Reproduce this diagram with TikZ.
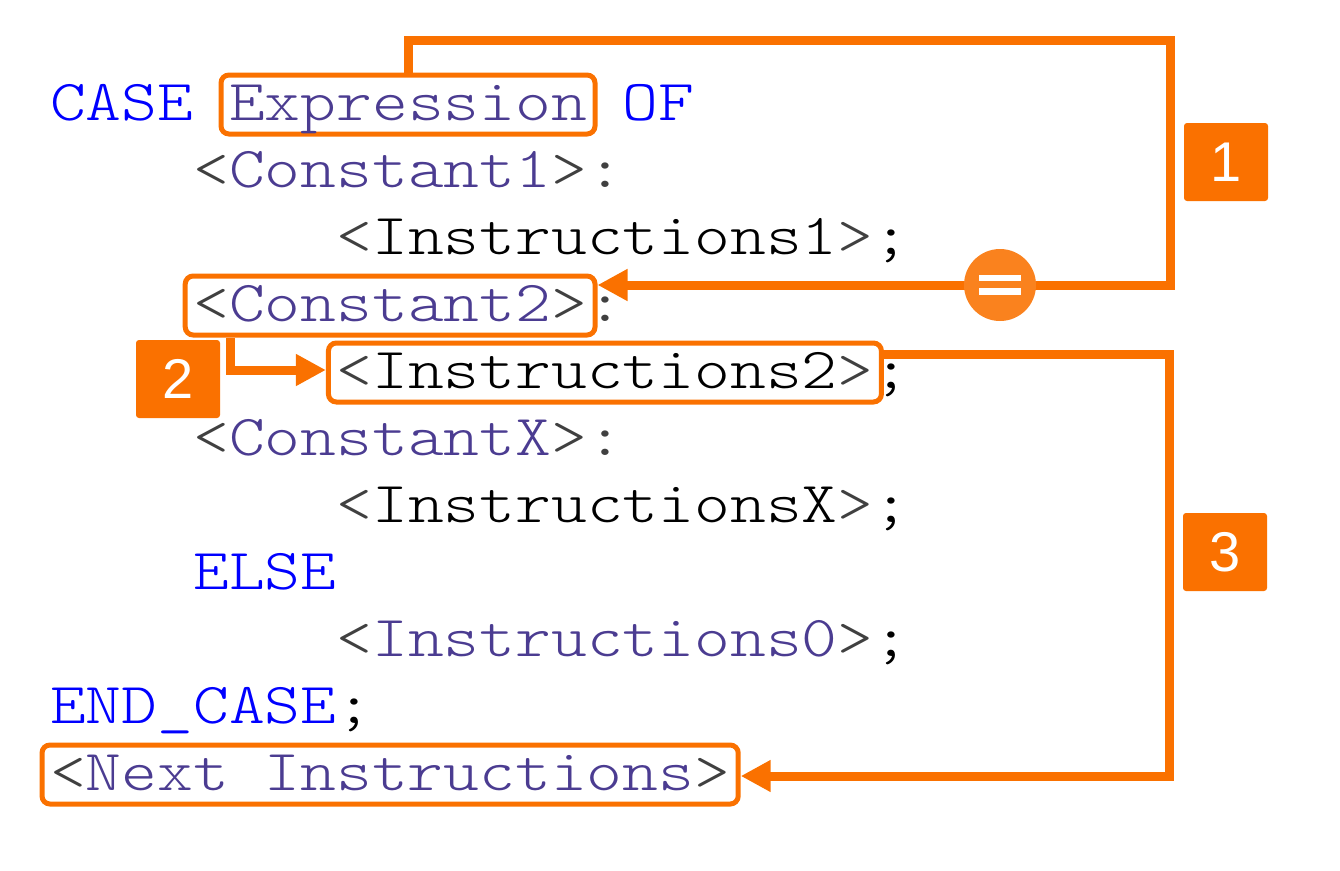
\documentclass[tikz,border=0pt]{standalone}
\usepackage{fontspec}
\newfontfamily\codefont[FakeStretch=1.1757]{lmmonolt10-regular.otf}
\newfontfamily\numfont{Liberation Sans}
\usetikzlibrary{calc,arrows.meta}
\definecolor{kw}{RGB}{0,0,255}
\definecolor{idc}{RGB}{75,60,145}
\definecolor{brk}{RGB}{64,64,64}
\definecolor{org}{RGB}{250,113,0}
\definecolor{orgc}{RGB}{250,130,30}
\newcommand\lt{\textcolor{brk}{<}}
\newcommand\gt{\textcolor{brk}{>}}
\tikzset{
  code/.style={anchor=text, inner sep=0pt, font=\codefont\fontsize{58}{67}\selectfont},
  codebox/.style={code, draw=org, line width=5pt, rounded corners=8pt, inner xsep=8pt, inner ysep=4pt, text height=41pt, text depth=10pt},
  conn/.style={draw=org, line width=9pt},
  tri/.style={-{Triangle[length=30pt,width=30pt]}, shorten >=0pt},
  numbox/.style={fill=org, rounded corners=3pt, text=white, minimum width=84pt, minimum height=78pt, inner sep=0pt, font=\numfont\fontsize{56}{60}\selectfont}
}
\begin{document}
\begin{tikzpicture}[x=1pt,y=-1pt]
\useasboundingbox (0,0) rectangle (1340,870);
\def\cw{35.8}
% line 0
\node[code,text=kw] (case) at (50,120) {CASE};
\node[codebox,text=idc] (e) at ({50+5*\cw},120) {Expression};
\node[code,text=kw] (of) at ({50+16*\cw},120) {OF};
% line 1
\node[code,text=idc] (k1) at ({50+4*\cw},187) {\lt Constant1\gt\textcolor{brk}{:}};
% line 2
\node[code,text=black] (i1) at ({50+8*\cw},254) {\lt Instructions1\gt;};
% line 3
\node[codebox,text=idc] (k2) at ({50+4*\cw},321) {\lt Constant2\gt};
\node[code,text=brk] (k2c) at ({50+15*\cw},321) {:};
% line 4
\node[codebox,text=black] (i2) at ({50+8*\cw},388) {\lt Instructions2\gt};
\node[code,text=black] (i2s) at ({50+23*\cw},388) {;};
% line 5
\node[code,text=idc] (kx) at ({50+4*\cw},455) {\lt ConstantX\gt\textcolor{brk}{:}};
% line 6
\node[code,text=black] (ix) at ({50+8*\cw},522) {\lt InstructionsX\gt;};
% line 7
\node[code,text=kw] (else) at ({50+4*\cw},589) {ELSE};
% line 8
\node[code,text=idc] (i0) at ({50+8*\cw},656) {\lt Instructions0\gt\textcolor{black}{;}};
% line 9
\node[code,text=kw] (end) at (50,723) {END\_CASE\textcolor{black}{;}};
% line 10
\node[codebox,text=idc] (n) at (50,790) {\lt Next Instructions\gt};

% connector 1
\coordinate (c1a) at (1170,40);
\coordinate (c1b) at (1170,285);
\draw[conn,tri] (e.north) |- (c1a) -- (c1b) -- (c1b -| k2.east);
\node[circle, fill=orgc, minimum size=72pt, inner sep=0pt] (eq) at (1000,285) {};
\fill[white] ($(eq.center)+(-21,-10)$) rectangle ($(eq.center)+(21,-4)$);
\fill[white] ($(eq.center)+(-21,3)$) rectangle ($(eq.center)+(21,10)$);
\node[numbox] (b1) at (1226,162) {1};

% connector 2
\coordinate (c2) at (230,370);
\draw[conn,tri] (k2.south -| c2) -- (c2) -- (c2 -| i2.west);
\node[numbox] (b2) at (178,379) {2};

% connector 3
\coordinate (c3a) at (1169,354);
\coordinate (c3b) at (1169,776);
\draw[conn,tri] (c3a -| i2.east) -- (c3a) -- (c3b) -- (c3b -| n.east);
\node[numbox] (b3) at (1225,552) {3};
\end{tikzpicture}
\end{document}
